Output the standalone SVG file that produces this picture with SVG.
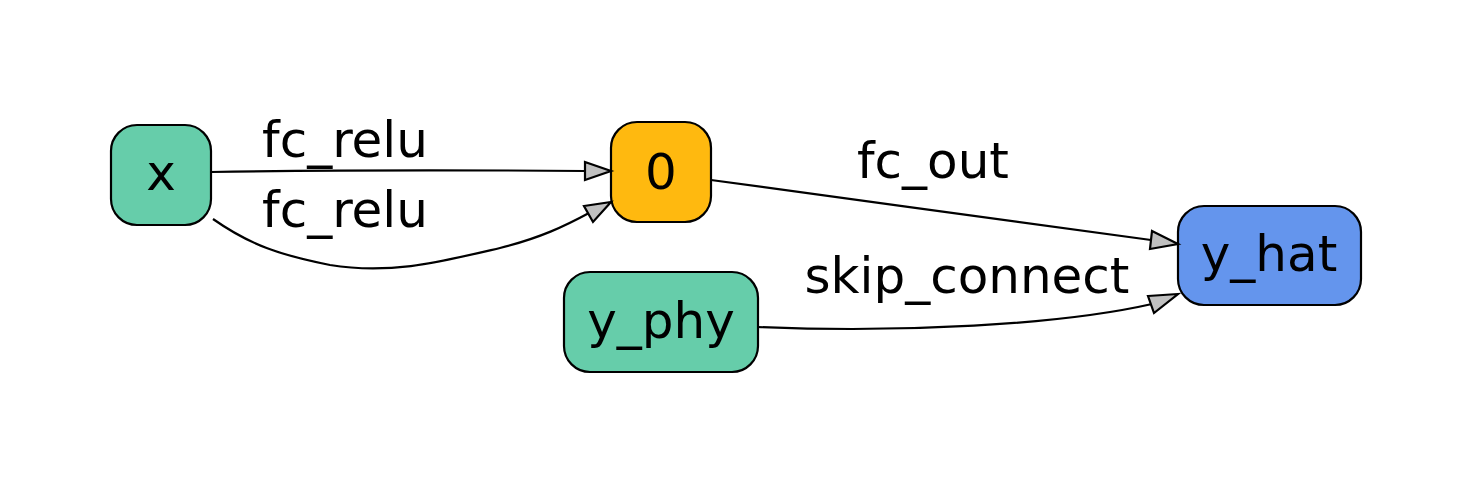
<svg xmlns="http://www.w3.org/2000/svg" width="1473" height="484" viewBox="0 0 1473 484">
<style>
.node rect{stroke:#000;stroke-width:2.2}
text{font-family:"DejaVu Sans",Verdana,sans-serif;font-size:50px;fill:#000;text-anchor:middle}
.edge path{fill:none;stroke:#000;stroke-width:2.2}
.edge polygon{fill:#c0c0c0;stroke:#000;stroke-width:2.2}
</style>
<rect width="1473" height="484" fill="#fff"/>
<g id="node-x" class="node"><rect x="111" y="125" width="100" height="100" rx="26" fill="#66cdaa"/><text x="161" y="190">x</text></g>
<g id="node-0" class="node"><rect x="611" y="122" width="100" height="100" rx="26" fill="#ffb90f"/><text x="661" y="189">0</text></g>
<g id="node-y_hat" class="node"><rect x="1178" y="206" width="183" height="99" rx="26" fill="#6495ed"/><text x="1269" y="271">y_hat</text></g>
<g id="node-y_phy" class="node"><rect x="564" y="272" width="194" height="100" rx="26" fill="#66cdaa"/><text x="661" y="338">y_phy</text></g>
<g id="edges" class="edge">
<path d="M211,172 C330,170 470,170 585,171"/>
<polygon points="585,162 611,171 585,180"/>
<text x="345" y="157">fc_relu</text>
<path d="M213,219 C250,245 280,255 330,265 C390,275 440,262 500,248 C540,238 565,226 589,213"/>
<polygon points="584,206 611,202 593,222"/>
<text x="345" y="227">fc_relu</text>
<path d="M711,180 C850,199 1020,222 1151,240"/>
<polygon points="1152,231 1178,244 1150,249"/>
<text x="933" y="178">fc_out</text>
<path d="M758,327 C900,333 1060,325 1152,304"/>
<polygon points="1148,296 1178,294 1154,313"/>
<text x="967" y="293">skip_connect</text>
</g>
</svg>
